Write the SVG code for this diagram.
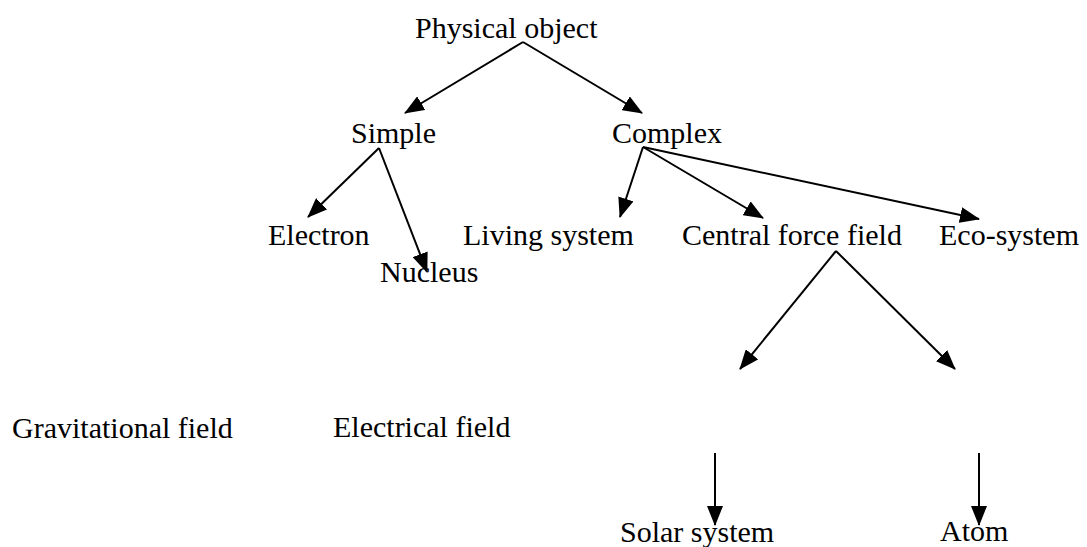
<svg xmlns="http://www.w3.org/2000/svg" width="1087" height="547" viewBox="0 0 1087 547">
<style>
text{font-family:"Liberation Serif","Times New Roman",serif;font-size:30px;fill:#000}
.c line{stroke:#000;stroke-width:2;marker-end:url(#ah)}
</style>
<defs>
<marker id="ah" markerUnits="userSpaceOnUse" markerWidth="20" markerHeight="16" viewBox="0 0 20 16" refX="19" refY="8" orient="auto">
<path d="M0,0 L20,8 L0,16 Z" fill="#000"/>
</marker>
</defs>
<rect width="1087" height="547" fill="#fff"/>
<g class="c" id="connectors">
<line x1="523" y1="42" x2="405" y2="113"/>
<line x1="523" y1="42" x2="642" y2="113"/>
<line x1="379" y1="148" x2="308" y2="217"/>
<line x1="379" y1="148" x2="427" y2="272"/>
<line x1="643" y1="147" x2="620" y2="217"/>
<line x1="643" y1="147" x2="763" y2="218"/>
<line x1="643" y1="147" x2="979" y2="219"/>
<line x1="836" y1="251" x2="740" y2="369"/>
<line x1="836" y1="251" x2="955" y2="369"/>
<line x1="715" y1="453" x2="715" y2="525"/>
<line x1="979" y1="453" x2="979" y2="525"/>
</g>
<g id="physical-object"><text x="415" y="38">Physical object</text></g>
<g id="simple"><text x="351" y="143">Simple</text></g>
<g id="complex"><text x="612" y="143">Complex</text></g>
<g id="electron"><text x="268" y="245">Electron</text></g>
<g id="nucleus"><text x="380" y="282">Nucleus</text></g>
<g id="living-system"><text x="463" y="245">Living system</text></g>
<g id="central-force-field"><text x="682" y="245">Central force field</text></g>
<g id="eco-system"><text x="939" y="245">Eco-system</text></g>
<g id="gravitational-field"><text x="12" y="438">Gravitational field</text></g>
<g id="electrical-field"><text x="333" y="437">Electrical field</text></g>
<g id="solar-system"><text x="620" y="542">Solar system</text></g>
<g id="atom"><text x="940" y="541">Atom</text></g>
</svg>
